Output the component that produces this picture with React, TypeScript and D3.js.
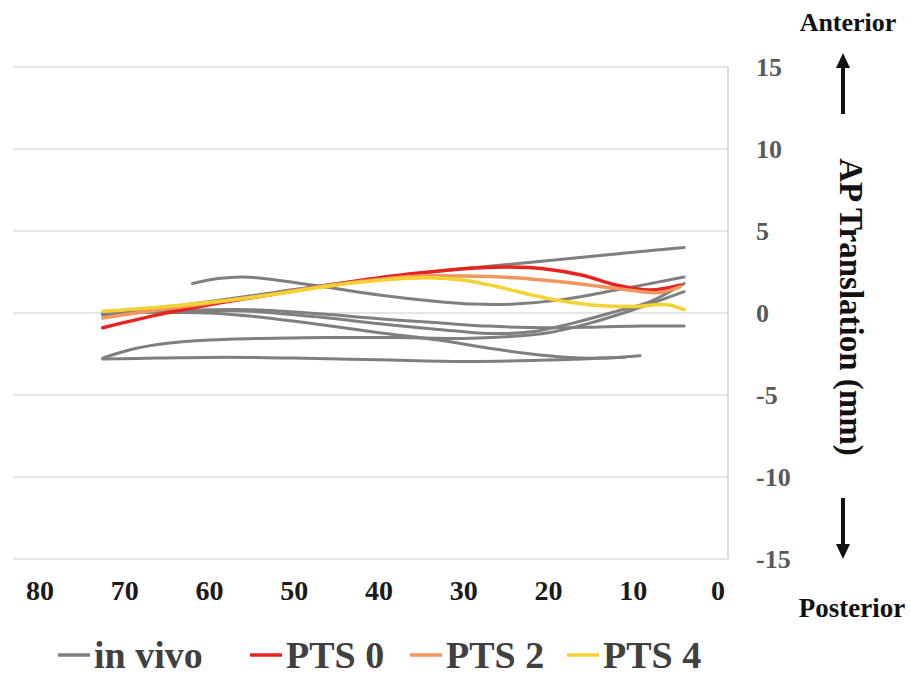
import React, { useEffect, useRef } from 'react';
import * as d3 from 'd3';

type Pt = [number, number];

// in vivo traces (flexion angle, AP translation in mm)
const inVivoA: Pt[] = [[62, 1.8], [59, 2.1], [56, 2.2], [52, 2.0], [46.5, 1.6], [40, 1.1], [34, 0.75], [29, 0.55], [24, 0.55], [18.6, 0.8], [12, 1.4], [4, 2.2]];
const inVivoB: Pt[] = [[72.6, -0.1], [66, 0.3], [60, 0.7], [53, 1.2], [46.5, 1.7], [40, 2.1], [34, 2.5], [28, 2.8], [22, 3.1], [16, 3.4], [10, 3.7], [4, 4.0]];
const inVivoC: Pt[] = [[72.6, 0.0], [66, 0.1], [60, 0.15], [55, 0.1], [47, -0.25], [40, -0.65], [33, -1.0], [27, -1.25], [22, -1.15], [17, -0.6], [12, 0.1], [8, 0.7], [4, 1.8]];
const inVivoD: Pt[] = [[72.6, -0.1], [66, 0.1], [60, 0.2], [55, 0.2], [47, -0.05], [40, -0.35], [33, -0.6], [27, -0.8], [20, -0.9], [14, -0.85], [9, -0.8], [4, -0.8]];
const inVivoE: Pt[] = [[72.6, 0.0], [66, 0.05], [60, 0.0], [55, -0.2], [47, -0.7], [40, -1.2], [33, -1.65], [27, -2.15], [22, -2.5], [18, -2.7], [14, -2.75], [9.2, -2.6]];
const inVivoF: Pt[] = [[72.6, -2.8], [66, -2.75], [58, -2.7], [50, -2.75], [40, -2.85], [30, -2.95], [22, -2.9], [16, -2.8], [11, -2.7]];
const inVivoG: Pt[] = [[72.6, -2.75], [69, -2.2], [65, -1.85], [60, -1.65], [54, -1.55], [46, -1.5], [38, -1.5], [30, -1.55], [25, -1.45], [20, -1.2], [15, -0.6], [10, 0.2], [4, 1.3]];

// simulations
const pts0: Pt[] = [[72.6, -0.9], [66, -0.1], [60, 0.5], [53, 1.1], [46.5, 1.65], [40, 2.15], [35, 2.45], [30, 2.7], [25, 2.8], [20.6, 2.7], [16, 2.3], [12, 1.7], [8, 1.4], [4.5, 1.7]];
const pts2: Pt[] = [[72.6, -0.3], [66, 0.2], [60, 0.6], [53, 1.1], [46.5, 1.65], [40, 2.05], [35, 2.25], [30, 2.25], [24, 2.15], [18.6, 1.9], [12, 1.5], [7, 1.25], [4.5, 1.6]];
const pts4: Pt[] = [[72.6, 0.1], [66, 0.35], [60, 0.65], [53, 1.1], [46.5, 1.6], [40, 2.0], [34, 2.15], [30, 2.0], [26, 1.6], [22, 1.1], [18.6, 0.75], [14, 0.45], [10, 0.4], [6, 0.5], [4, 0.2]];

const xTicks = [80, 70, 60, 50, 40, 30, 20, 10, 0];
const yTicks = [15, 10, 5, 0, -5, -10, -15];

const inVivo = [inVivoA, inVivoB, inVivoC, inVivoD, inVivoE, inVivoF, inVivoG];
const sims = [
  { name: 'PTS 0', data: pts0, color: '#e8231f' },
  { name: 'PTS 2', data: pts2, color: '#f2955e' },
  { name: 'PTS 4', data: pts4, color: '#f3d232' },
];
const legendItems = [
  { name: 'in vivo', color: '#7f7f7f' },
  ...sims.map(s => ({ name: s.name, color: s.color })),
];

const App: React.FC = () => {
  const svgRef = useRef<SVGSVGElement>(null);

  useEffect(() => {
    if (!svgRef.current) return;
    const width = 911;
    const height = 675;
    const svg = d3.select(svgRef.current)
      .attr('width', width)
      .attr('height', height);
    svg.selectAll('*').remove();

    const font = '"Liberation Serif", "Times New Roman", serif';
    const left = 13;
    const right = 728;

    const x = d3.scaleLinear().domain([80, 0]).range([40, 718]);
    const y = d3.scaleLinear().domain([-15, 15]).range([559, 67]);

    svg.append('rect').attr('width', width).attr('height', height).attr('fill', '#fff');

    // gridlines
    svg.append('g')
      .selectAll('line')
      .data(yTicks)
      .enter()
      .append('line')
      .attr('x1', left)
      .attr('x2', right)
      .attr('y1', d => y(d))
      .attr('y2', d => y(d))
      .attr('stroke', '#dcdcdc')
      .attr('stroke-width', 1.5);

    svg.append('line')
      .attr('x1', right).attr('x2', right)
      .attr('y1', y(15)).attr('y2', y(-15))
      .attr('stroke', '#d0d0d0')
      .attr('stroke-width', 1.5);

    const line = d3.line<Pt>()
      .x(d => x(d[0]))
      .y(d => y(d[1]))
      .curve(d3.curveCatmullRom.alpha(0.5));

    svg.append('g')
      .selectAll('path')
      .data(inVivo)
      .enter()
      .append('path')
      .attr('d', d => line(d))
      .attr('fill', 'none')
      .attr('stroke', '#7f7f7f')
      .attr('stroke-width', 3)
      .attr('stroke-linecap', 'round');

    svg.append('g')
      .selectAll('path')
      .data(sims)
      .enter()
      .append('path')
      .attr('d', d => line(d.data))
      .attr('fill', 'none')
      .attr('stroke', d => d.color)
      .attr('stroke-width', 3.5)
      .attr('stroke-linecap', 'round');

    // x tick labels
    svg.append('g')
      .selectAll('text')
      .data(xTicks)
      .enter()
      .append('text')
      .attr('x', d => x(d))
      .attr('y', 600)
      .attr('text-anchor', 'middle')
      .attr('font-family', font)
      .attr('font-weight', 'bold')
      .attr('font-size', 28)
      .attr('fill', '#1a1a1a')
      .text(d => d);

    // y tick labels (right side)
    svg.append('g')
      .selectAll('text')
      .data(yTicks)
      .enter()
      .append('text')
      .attr('x', 756)
      .attr('y', d => y(d) + 9)
      .attr('font-family', font)
      .attr('font-weight', 'bold')
      .attr('font-size', 26)
      .attr('fill', '#595959')
      .text(d => d);

    const titles = svg.append('g')
      .attr('font-family', font)
      .attr('font-weight', 'bold')
      .attr('fill', '#111');

    titles.append('text')
      .attr('x', 848).attr('y', 31)
      .attr('text-anchor', 'middle')
      .attr('font-size', 26)
      .text('Anterior');

    titles.append('text')
      .attr('x', 852).attr('y', 617)
      .attr('text-anchor', 'middle')
      .attr('font-size', 27)
      .text('Posterior');

    titles.append('text')
      .attr('transform', 'translate(840, 307) rotate(90)')
      .attr('text-anchor', 'middle')
      .attr('font-size', 33)
      .text('AP Translation (mm)');

    // arrows
    const arrows = svg.append('g').attr('fill', '#111').attr('stroke', '#111');
    arrows.append('line').attr('x1', 843).attr('x2', 843).attr('y1', 114).attr('y2', 66).attr('stroke-width', 4);
    arrows.append('path').attr('d', 'M836,68 L843,53 L850,68 Z').attr('stroke', 'none');
    arrows.append('line').attr('x1', 843).attr('x2', 843).attr('y1', 498).attr('y2', 546).attr('stroke-width', 4);
    arrows.append('path').attr('d', 'M836,544 L843,559 L850,544 Z').attr('stroke', 'none');

    // legend
    const legendX = [58, 250, 410, 567];
    const lg = svg.append('g')
      .selectAll('g')
      .data(legendItems)
      .enter()
      .append('g')
      .attr('transform', (d, i) => `translate(${legendX[i]}, 655)`);
    lg.append('line')
      .attr('x1', 0).attr('x2', 32)
      .attr('y1', 0).attr('y2', 0)
      .attr('stroke', d => d.color)
      .attr('stroke-width', 3.5);
    lg.append('text')
      .attr('x', 36)
      .attr('y', 13)
      .attr('font-family', font)
      .attr('font-weight', 'bold')
      .attr('font-size', 38)
      .attr('fill', '#404040')
      .text(d => d.name);
  }, []);

  return (
    <div style={{ position: 'absolute', left: 0, top: 0 }}>
      <svg ref={svgRef} style={{ display: 'block' }} />
    </div>
  );
};

export default App;
